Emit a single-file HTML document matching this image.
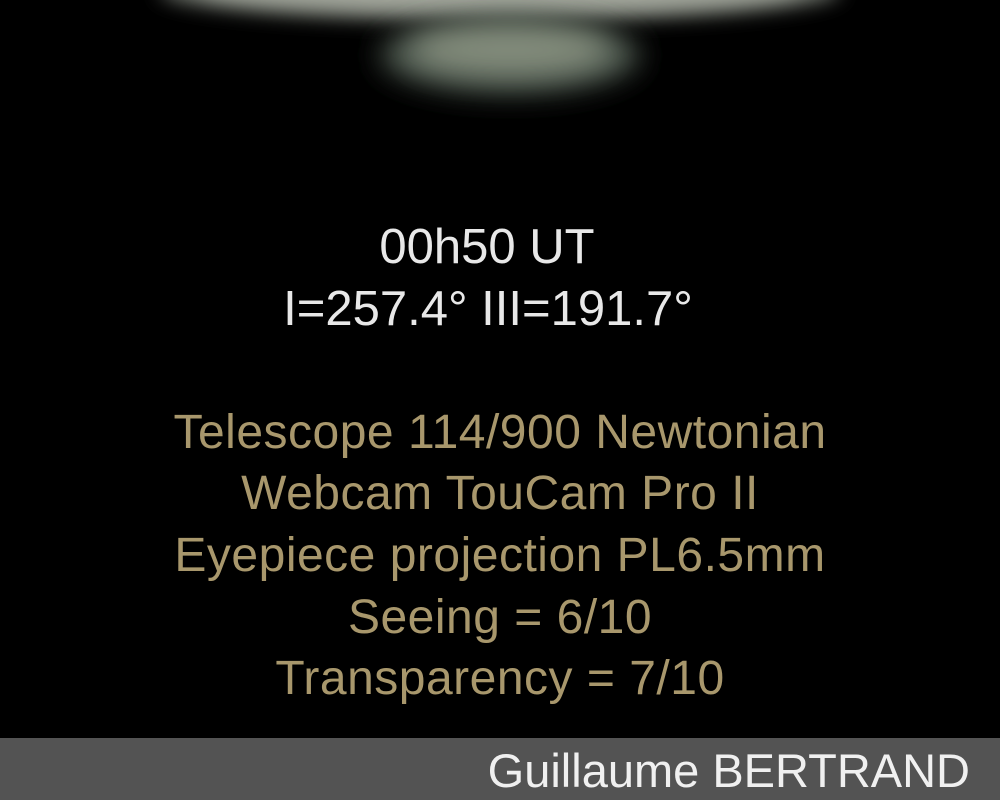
<!DOCTYPE html>
<html><head><meta charset="utf-8"><style>
html,body{margin:0;padding:0;background:#000;}
#wrap{position:relative;width:1000px;height:800px;overflow:hidden;background:#000;font-family:"Liberation Sans",sans-serif;}
.t{position:absolute;left:0;width:1000px;text-align:center;white-space:nowrap;}
.w{color:#e8e8e8;font-size:49px;}
.g{color:#a8976c;font-size:48px;letter-spacing:0.5px;}
</style></head><body>
<div id="wrap">
<svg width="1000" height="160" style="position:absolute;left:0;top:0">
<defs>
<filter id="b1" x="-50%" y="-200%" width="200%" height="500%"><feGaussianBlur stdDeviation="10"/></filter>
<filter id="b2" x="-50%" y="-200%" width="200%" height="500%"><feGaussianBlur stdDeviation="14"/></filter>
</defs>
<ellipse cx="500" cy="-10" rx="340" ry="30" fill="#7d8279" filter="url(#b1)"/>
<ellipse cx="500" cy="-14" rx="300" ry="22" fill="#a9aca1" filter="url(#b1)"/>
<ellipse cx="510" cy="55" rx="130" ry="38" fill="#4c564d" filter="url(#b2)"/>
<ellipse cx="510" cy="50" rx="100" ry="24" fill="#838c7c" filter="url(#b2)"/>
</svg>
<div class="t w" style="top:219px;left:-13px">00h50 UT</div>
<div class="t w" style="top:281px;left:-12px">I=257.4° III=191.7°</div>
<div class="t g" style="top:405px">Telescope 114/900 Newtonian</div>
<div class="t g" style="top:466px">Webcam TouCam Pro II</div>
<div class="t g" style="top:528px">Eyepiece projection PL6.5mm</div>
<div class="t g" style="top:590px">Seeing = 6/10</div>
<div class="t g" style="top:651px">Transparency = 7/10</div>
<div style="position:absolute;left:0;top:738px;width:1000px;height:62px;background:#535353">
<div style="position:absolute;right:30px;top:5px;color:#f0f0f0;font-size:47px">Guillaume BERTRAND</div>
</div>
</div>
</body></html>
